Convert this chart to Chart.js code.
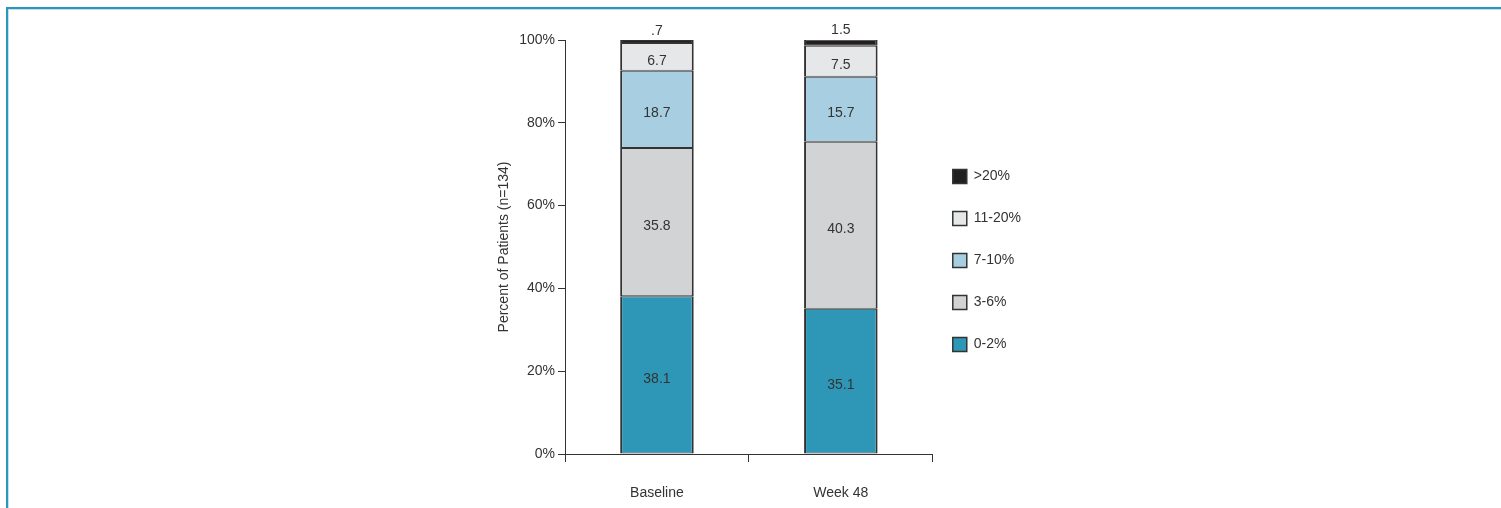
<!DOCTYPE html>
<html>
<head>
<meta charset="utf-8">
<script src="https://cdn.jsdelivr.net/npm/chart.js@4.4.1/dist/chart.umd.min.js"></script>
<style>
  html, body { margin: 0; padding: 0; background: #fff; }
  #wrap { position: relative; width: 1501px; height: 508px; overflow: hidden; }
  #frame { position: absolute; left: 6px; top: 7px; right: -10px; bottom: -10px;
           border-top: 2px solid #2e96b8; border-left: 2px solid #2e96b8; }
  #frame2 { position: absolute; left: 8px; top: 9px; right: -10px; bottom: -10px;
           border-top: 1px solid #bfe3ec; border-left: 1px solid #bfe3ec; }
  canvas { position: absolute; left: 0; top: 0; }
</style>
</head>
<body>
<div id="wrap">
  <div id="frame"></div>
  <div id="frame2"></div>
  <canvas id="c" width="1501" height="508"></canvas>
</div>
<script>
const categories = ['Baseline', 'Week 48'];
const seriesNames = ['0-2%', '3-6%', '7-10%', '11-20%', '>20%'];
const s0to2 = [38.1, 35.1];
const s3to6 = [35.8, 40.3];
const s7to10 = [18.7, 15.7];
const s11to20 = [6.7, 7.5];
const sOver20 = [0.7, 1.5];
const yTicks = [0, 20, 40, 60, 80, 100];
const colors = ['#2e97b8', '#d1d3d5', '#a8cee1', '#e6e7e9', '#231f20'];

const FONT = "'Liberation Sans', Arial, sans-serif";
const TXT = '#333333';

const seriesValues = [s0to2, s3to6, s7to10, s11to20, sOver20];
const datasets = seriesNames.map((n, i) => ({
  label: n,
  data: seriesValues[i],
  backgroundColor: colors[i],
  borderColor: '#333333',
  borderWidth: { top: 1, bottom: 1, left: 2, right: 2 },
  borderSkipped: false,
  barPercentage: 0.4,
  categoryPercentage: 1.0
}));

const fmt = v => (v < 1 ? String(v).replace(/^0/, '') : v.toFixed(1));

const labelPlugin = {
  id: 'segLabels',
  afterDatasetsDraw(chart) {
    const ctx = chart.ctx;
    ctx.save();
    ctx.font = '14px ' + FONT;
    ctx.fillStyle = TXT;
    ctx.textAlign = 'center';
    ctx.textBaseline = 'middle';
    const last = chart.data.datasets.length - 1;
    chart.data.datasets.forEach((ds, di) => {
      const meta = chart.getDatasetMeta(di);
      meta.data.forEach((bar, i) => {
        const v = ds.data[i];
        if (di === last) {
          ctx.fillText(fmt(v), bar.x, bar.y - 9);
        } else {
          ctx.fillText(fmt(v), bar.x, (bar.y + bar.base) / 2 + 4);
        }
      });
    });
    ctx.restore();
  }
};

// nudge the legend block so its swatches sit where the reference has them
const legendShift = {
  id: 'legendShift',
  afterLayout(chart) {
    const lg = chart.legend;
    if (lg) { lg.left -= 8; lg.right -= 8; }
  }
};

new Chart(document.getElementById('c'), {
  type: 'bar',
  data: { labels: categories, datasets },
  options: {
    responsive: false,
    animation: false,
    devicePixelRatio: 1,
    layout: { padding: { left: 492, top: 19, right: 462, bottom: 6 } },
    plugins: {
      tooltip: { enabled: false },
      title: { display: true, text: '', padding: 0, font: { size: 21, lineHeight: 1 } },
      legend: {
        position: 'right',
        reverse: true,
        labels: {
          boxWidth: 14,
          boxHeight: 14,
          padding: 28,
          color: TXT,
          font: { family: FONT, size: 14 }
        }
      }
    },
    scales: {
      x: {
        stacked: true,
        grid: { offset: true, drawOnChartArea: false, drawTicks: true, tickLength: 8, color: '#333', lineWidth: 1 },
        border: { display: true, color: '#333', width: 1 },
        ticks: { color: TXT, padding: 23, font: { family: FONT, size: 14 } },
        afterFit(scale) { scale.height = 48; }
      },
      y: {
        stacked: true,
        min: 0,
        max: 100,
        afterBuildTicks(scale) { scale.ticks = yTicks.map(v => ({ value: v })); },
        ticks: { color: TXT, padding: 3, font: { family: FONT, size: 14 }, callback: v => v + '%' },
        grid: { drawOnChartArea: false, drawTicks: true, tickLength: 7, color: '#333', lineWidth: 1 },
        border: { display: true, color: '#333', width: 1 },
        title: { display: true, text: 'Percent of Patients (n=134)', color: TXT, font: { family: FONT, size: 14 }, padding: { top: 4, bottom: 4 } },
        afterFit(scale) { scale.width = 73; }
      }
    }
  },
  plugins: [labelPlugin, legendShift]
});
</script>
</body>
</html>
